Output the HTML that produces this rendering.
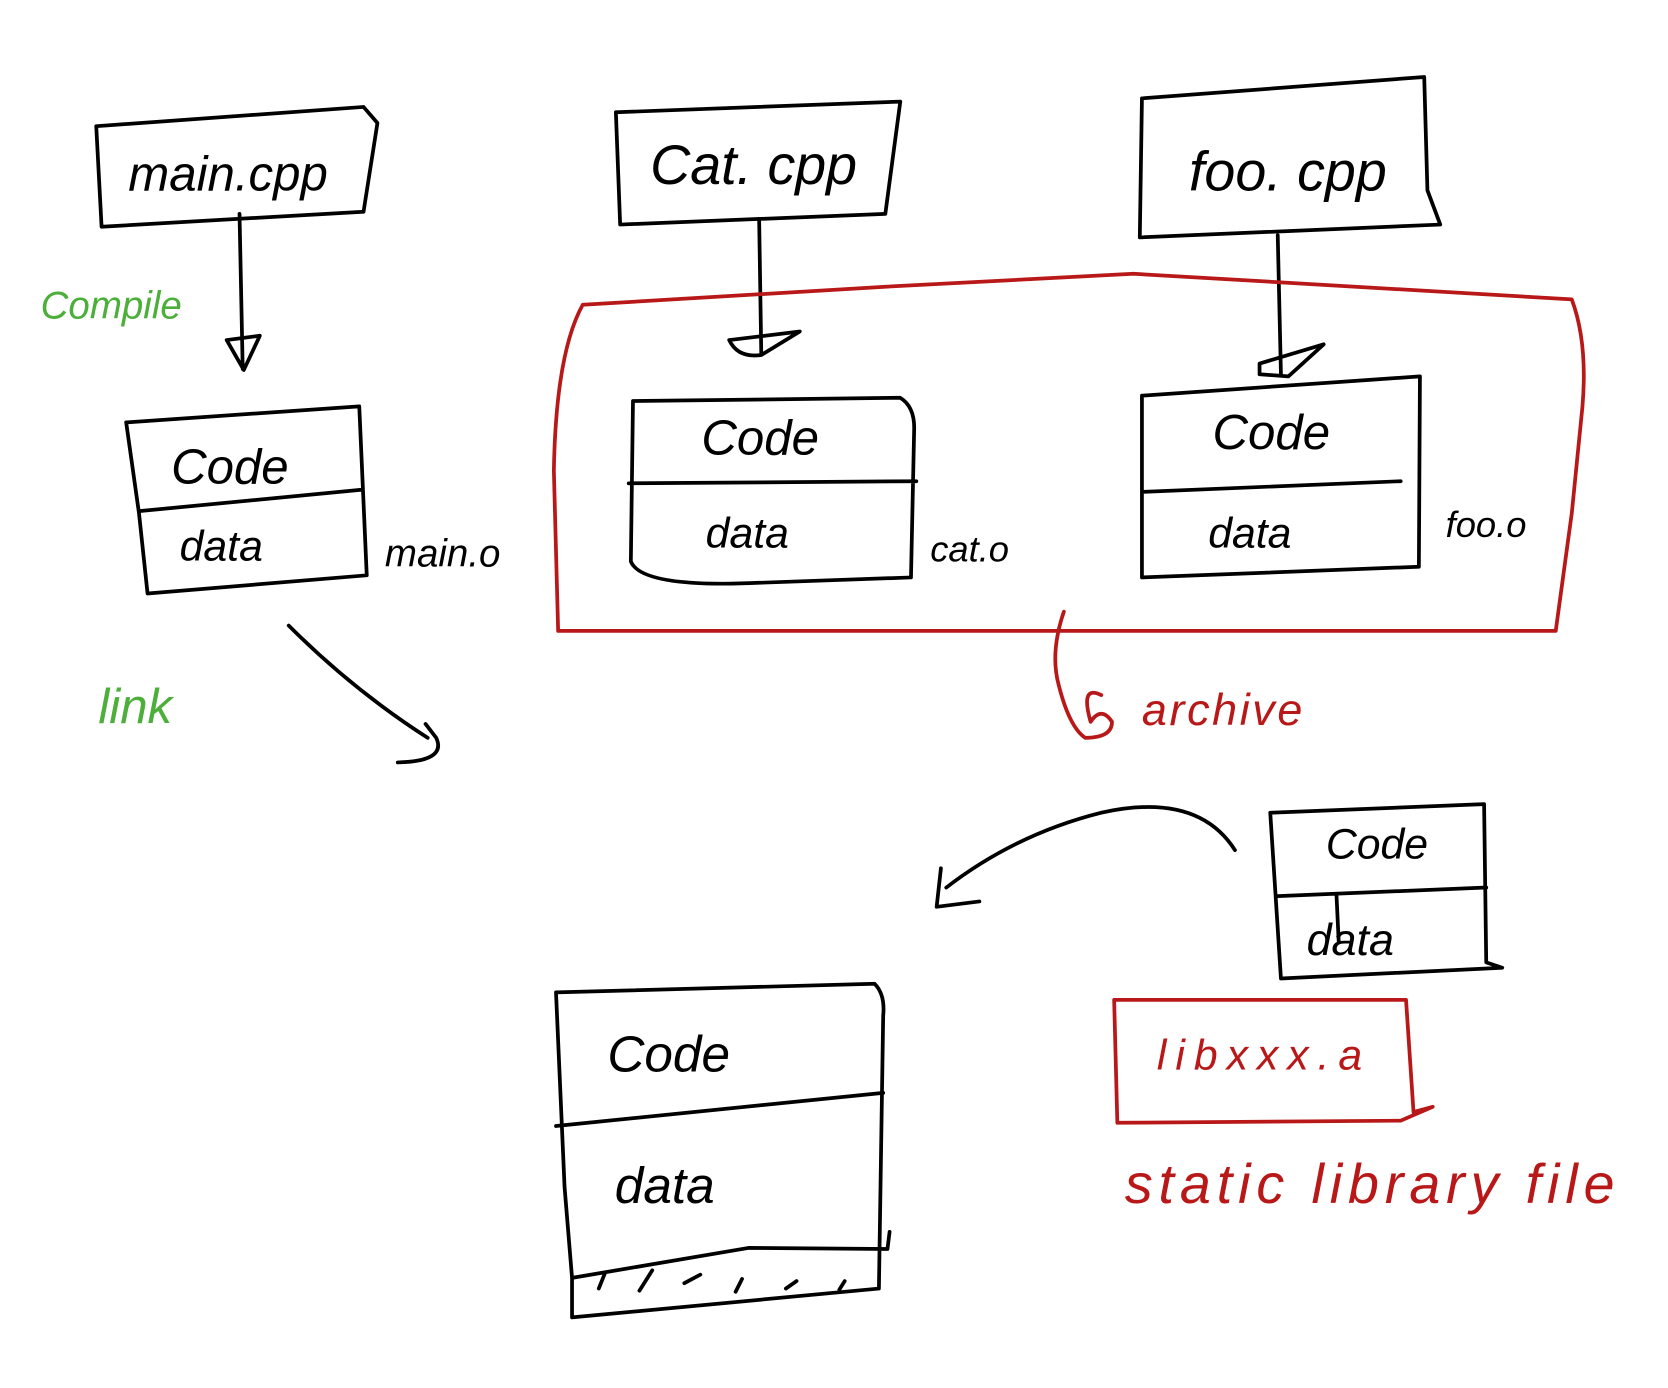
<!DOCTYPE html>
<html><head><meta charset="utf-8"><style>
html,body{margin:0;padding:0;background:#fff;width:1668px;height:1388px;overflow:hidden}
svg{display:block}
text{font-family:"Liberation Sans",sans-serif}
</style></head><body>
<svg width="1668" height="1388" viewBox="0 0 1560 1298" preserveAspectRatio="none" xmlns="http://www.w3.org/2000/svg">
<g fill="none" stroke="#000" stroke-width="3.5" stroke-linecap="round" stroke-linejoin="round">
<path d="M90 118 L340 100 L353 115 L340 198 L95 212 Z"/>
<path d="M576 105 L842 95 L828 200 L580 210 Z"/>
<path d="M1068 92 L1332 72 L1335 178 L1347 210 L1066 222 Z"/>
<path d="M224 200 L227 345 M212 318 L243 314 L228 346 Z"/>
<path d="M710 205 L712 332 M682 318 L748 310 L712 332 Q690 335 682 318"/>
<path d="M1195 220 L1198 350 M1178 340 L1238 322 L1205 352 L1178 350 Z"/>
<path d="M118 395 L336 380 L343 538 L138 555 L130 480 Z M130 478 L338 458"/>
<path d="M592 375 L842 372 Q855 380 855 400 L852 540 L710 545 Q600 550 590 525 Z M588 452 L857 450"/>
<path d="M1068 370 L1328 352 L1327 530 L1068 540 Z M1068 460 L1310 450"/>
<path d="M270 585 Q330 645 400 690 M372 713 Q418 712 408 690 L398 677"/>
<path d="M1155 795 Q1120 740 1030 760 Q950 780 885 830 M880 812 L876 848 L916 843"/>
<path d="M1188 760 L1388 752 L1390 900 L1405 905 L1198 915 Z M1195 838 L1390 830 M1250 838 L1252 880"/>
<path d="M520 928 L818 920 Q828 930 826 950 L822 1205 L535 1232 L535 1195 L528 1110 Z M520 1053 L826 1022 M535 1195 L700 1167 L830 1168 L832 1152"/>
<path d="M560 1205 L566 1190 M598 1207 L610 1188 M640 1200 L655 1192 M688 1208 L694 1196 M735 1205 L745 1198 M785 1206 L790 1198"/>
</g>
<g fill="none" stroke="#b81818" stroke-width="3.5" stroke-linecap="round" stroke-linejoin="round">
<path d="M545 285 L830 268 L1060 256 L1470 280 Q1485 320 1480 380 L1470 480 L1455 590 L522 590 L518 440 Q520 330 545 285 Z"/>
<path d="M995 572 Q982 610 990 640 Q1000 680 1015 690 Q1040 690 1040 675 Q1030 660 1020 675 Q1010 640 1030 650"/>
<path d="M1042 935 L1315 935 L1322 1040 L1340 1035 L1310 1048 L1045 1050 Z"/>
</g>
<g font-style="italic">
<text x="120" y="178" font-size="46">main.cpp</text>
<text x="608" y="172" font-size="52">Cat. cpp</text>
<text x="1112" y="178" font-size="52">foo. cpp</text>
<text x="160" y="452" font-size="46">Code</text>
<text x="168" y="524" font-size="40">data</text>
<text x="360" y="530" font-size="36">main.o</text>
<text x="656" y="425" font-size="46">Code</text>
<text x="660" y="512" font-size="40">data</text>
<text x="870" y="525" font-size="34">cat.o</text>
<text x="1134" y="420" font-size="46">Code</text>
<text x="1130" y="512" font-size="40">data</text>
<text x="1352" y="502" font-size="34">foo.o</text>
<text x="1240" y="803" font-size="40">Code</text>
<text x="1222" y="893" font-size="42">data</text>
<text x="568" y="1002" font-size="48">Code</text>
<text x="575" y="1125" font-size="48">data</text>
<text x="38" y="298" font-size="36" fill="#4caf3a">Compile</text>
<text x="92" y="676" font-size="46" fill="#4caf3a">link</text>
<text x="1068" y="678" font-size="42" fill="#b81818" textLength="150">archive</text>
<text x="1082" y="1000" font-size="40" fill="#b81818" textLength="192">libxxx.a</text>
<text x="1052" y="1125" font-size="52" fill="#b81818" textLength="458">static  library  file</text>
</g>
</svg>
</body></html>
